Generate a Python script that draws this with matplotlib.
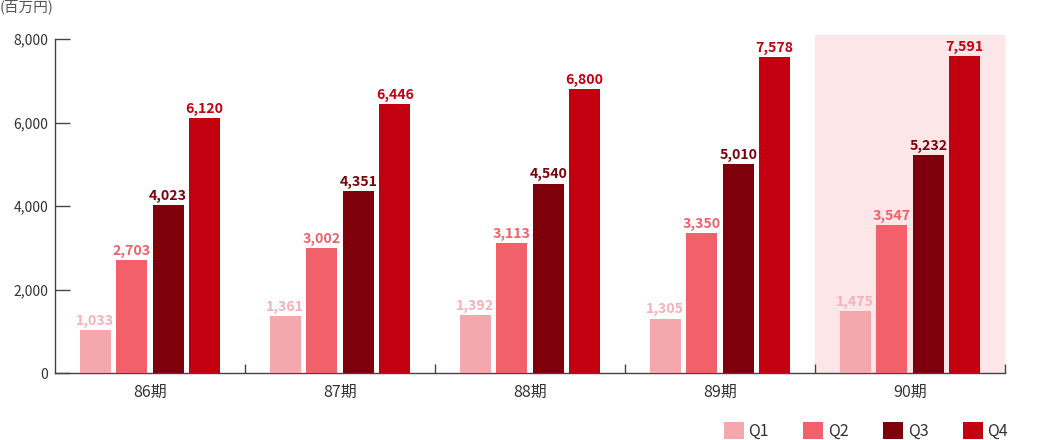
import matplotlib
matplotlib.use("Agg")
import matplotlib.pyplot as plt
import numpy as np
from matplotlib.ticker import FuncFormatter
from matplotlib.patches import Patch

plt.rcParams['font.family'] = ['Noto Sans CJK JP', 'DejaVu Sans']

periods = ["86期", "87期", "88期", "89期", "90期"]
series = ["Q1", "Q2", "Q3", "Q4"]
q1 = [1033, 1361, 1392, 1305, 1475]
q2 = [2703, 3002, 3113, 3350, 3547]
q3 = [4023, 4351, 4540, 5010, 5232]
q4 = [6120, 6446, 6800, 7578, 7591]
yticks = [0, 2000, 4000, 6000, 8000]
unit_label = "(百万円)"

bar_colors = ["#f4a8ad", "#f2616a", "#7d000b", "#c3000f"]
label_colors = ["#f6b2b7", "#f2616a", "#7d000b", "#c3000f"]
highlight_color = "#fde6e8"

fig = plt.figure(figsize=(10.4, 4.4), dpi=100)
ax = fig.add_axes([55/1040, 67/440, 950/1040, 338/440])

x = np.arange(len(periods))
pitch = 0.192
width = 0.165
vals = [q1, q2, q3, q4]
handles = []
for i, (v, c, lc, name) in enumerate(zip(vals, bar_colors, label_colors, series)):
    pos = x + (i - 1.5) * pitch
    bars = ax.bar(pos, v, width=width, color=c, edgecolor='none', zorder=3, label=name)
    for b, val in zip(bars, v):
        ax.annotate(f"{val:,}", (b.get_x() + b.get_width()/2, val),
                    xytext=(0, 1.5), textcoords='offset points',
                    ha='center', va='bottom', fontsize=10.2, fontweight='bold',
                    color=lc, zorder=4)
    handles.append(Patch(facecolor=c, edgecolor='none', label=name))

ax.set_xlim(-0.5, len(periods) - 0.5)
ax.set_ylim(0, 8100)
ax.axvspan(len(periods) - 1.5, len(periods) - 0.5, color=highlight_color, zorder=0, lw=0)

ax.spines['top'].set_visible(False)
ax.spines['right'].set_visible(False)
for s in ['left', 'bottom']:
    ax.spines[s].set_color('#444444')
    ax.spines[s].set_linewidth(1.0)
ax.spines['left'].set_bounds(0, 8000)

ax.set_yticks(yticks)
ax.yaxis.set_major_formatter(FuncFormatter(lambda v, p: f"{int(v):,}"))
ax.tick_params(axis='y', direction='in', length=11, width=1.0, color='#444444',
               labelsize=10, labelcolor='#333333', pad=5)

ax.set_xticks(x)
ax.set_xticklabels(periods)
ax.tick_params(axis='x', which='major', length=0, labelsize=11.5, labelcolor='#333333', pad=8)
ax.set_xticks(np.arange(0.5, len(periods), 1.0), minor=True)
ax.tick_params(axis='x', which='minor', direction='in', length=6.5, width=1.0, color='#444444')

fig.text(0.0, 1 - 7/440, unit_label, ha='left', va='center', fontsize=10.5, color='#555555')

leg = fig.legend(handles=handles, loc='lower right', bbox_to_anchor=(1008/1040, 0.0/440),
                 ncol=4, frameon=False, fontsize=11.5, handlelength=1.25, handleheight=1.25,
                 handletextpad=0.3, columnspacing=2.15, borderpad=0.0, borderaxespad=0.0)
for t in leg.get_texts():
    t.set_color('#333333')

fig.savefig("out.png", dpi=100)
